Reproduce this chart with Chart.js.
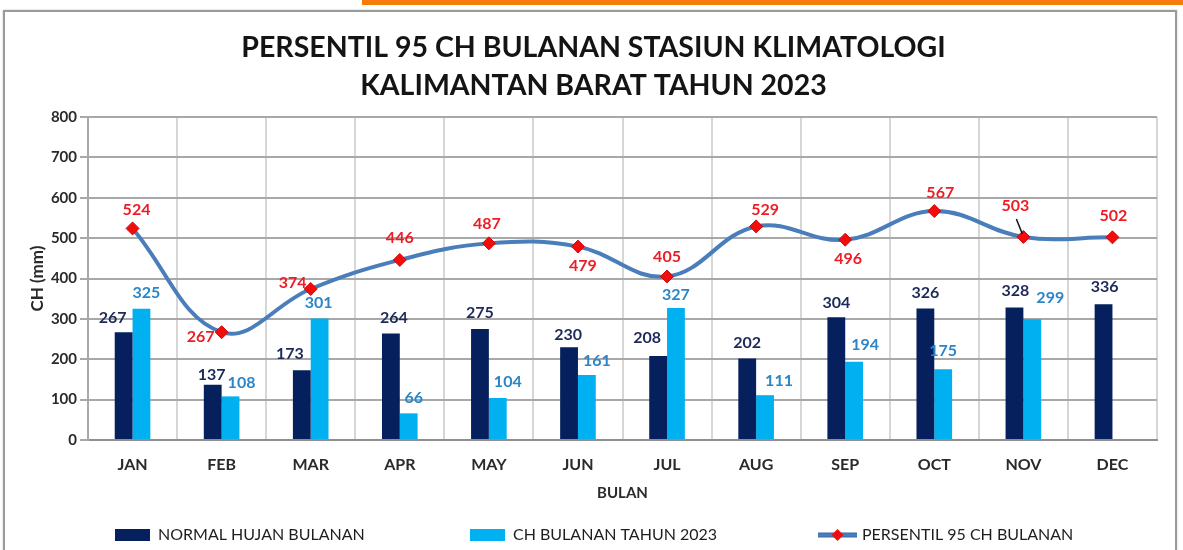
<!DOCTYPE html>
<html>
<head>
<meta charset="utf-8">
<script src="https://cdn.jsdelivr.net/npm/chart.js@4.4.1/dist/chart.umd.min.js"></script>
<style>
  html, body { margin: 0; padding: 0; background: #ffffff; }
  body { width: 1183px; height: 550px; position: relative; overflow: hidden; }
  #orange { position: absolute; left: 362px; top: 0; width: 821px; height: 5px; background: #f47b0c; }
  #frame { position: absolute; left: 3px; top: 10px; width: 1170px; height: 560px; border: 2px solid #9a9a9a; box-shadow: 0 0 2px #c8c8c8; }
  #wrap { position: absolute; left: 0; top: 0; width: 1183px; height: 550px; }
</style>
</head>
<body>
<div id="orange"></div>
<div id="frame"></div>
<div id="wrap"><canvas id="c" width="1183" height="550"></canvas></div>
<script>
// ---- data ----
const categories = ['JAN','FEB','MAR','APR','MAY','JUN','JUL','AUG','SEP','OCT','NOV','DEC'];
const normalValues = [267,137,173,264,275,230,208,202,304,326,328,336];
const ch2023Values = [325,108,301,66,104,161,327,111,194,175,299,null];
const p95Values = [524,267,374,446,487,479,405,529,496,567,503,502];
const seriesNames = ['NORMAL HUJAN BULANAN','CH BULANAN TAHUN 2023','PERSENTIL 95 CH BULANAN'];
const titleLines = ['PERSENTIL 95 CH BULANAN STASIUN KLIMATOLOGI','KALIMANTAN BARAT TAHUN 2023'];
const yMin = 0, yMax = 800, yStep = 100;

// ---- label placement (offsets from mark, px) ----
const normalLabelOffsets = [[-11,-14],[-1,-10],[-12,-16],[3,-16],[0,-16],[-1,-12],[-11,-18],[0,-16],[0,-14],[0,-16],[1,-17],[1,-17]];
const ch2023LabelOffsets = [[5,-16],[11,-14],[-1,-16],[5,-16],[10,-16],[10,-14],[0,-13],[14,-14],[11,-17],[0,-19],[18,-21],[0,0]];
const p95LabelOffsets = [[4,-19],[-21,5],[-18,-6],[0,-22],[-2,-20],[5,19],[0,-20],[9,-17],[3,19],[6,-18],[-8,-31],[1,-21]];
// legend item left edges (px)
const legendItemX = [115, 470, 818];

const COL_DARK = '#06205e';
const COL_LIGHT = '#00b0f0';
const COL_LINE = '#4a7ebb';
const COL_MARK = '#f20d0d';
const labelColors = ['#1c2a5a', '#2a86c8', '#ee1c25'];
const labelOffsets = [normalLabelOffsets, ch2023LabelOffsets, p95LabelOffsets];

const valueLabelPlugin = {
  id: 'valueLabels',
  afterDatasetsDraw(chart) {
    const ctx = chart.ctx;
    ctx.save();
    ctx.font = 'bold 16px Lato';
    ctx.textAlign = 'center';
    ctx.textBaseline = 'middle';
    chart.data.datasets.forEach((ds, i) => {
      const meta = chart.getDatasetMeta(i);
      meta.data.forEach((el, j) => {
        const v = ds.data[j];
        if (v === null || v === undefined) return;
        const off = labelOffsets[i][j];
        const lx = el.x + off[0], ly = el.y + off[1];
        if (i === 2 && j === 10) {
          ctx.strokeStyle = '#111';
          ctx.lineWidth = 1.5;
          ctx.beginPath(); ctx.moveTo(el.x - 7, el.y - 18); ctx.lineTo(el.x - 1, el.y - 3); ctx.stroke();
        }
        ctx.fillStyle = labelColors[i];
        ctx.fillText(String(v), lx, ly);
      });
    });
    ctx.restore();
  }
};

const legendPlugin = {
  id: 'customLegend',
  afterDraw(chart) {
    const ctx = chart.ctx;
    const cy = 535;
    ctx.save();
    ctx.font = '16px Lato';
    ctx.textBaseline = 'middle';
    ctx.textAlign = 'left';
    chart.data.datasets.forEach((ds, i) => {
      const x = legendItemX[i];
      let tx;
      if (ds.type === 'line') {
        ctx.strokeStyle = '#3a6aa8';
        ctx.lineWidth = 5;
        ctx.beginPath(); ctx.moveTo(x, cy); ctx.lineTo(x + 39, cy); ctx.stroke();
        ctx.strokeStyle = ds.borderColor;
        ctx.lineWidth = 3;
        ctx.beginPath(); ctx.moveTo(x, cy); ctx.lineTo(x + 39, cy); ctx.stroke();
        const mx = x + 19.5, r = 6;
        ctx.fillStyle = ds.pointBackgroundColor;
        ctx.beginPath(); ctx.moveTo(mx, cy - r); ctx.lineTo(mx + r, cy); ctx.lineTo(mx, cy + r); ctx.lineTo(mx - r, cy); ctx.closePath();
        ctx.fill();
        tx = x + 44;
      } else {
        ctx.fillStyle = ds.backgroundColor;
        ctx.fillRect(x, cy - 6, 35, 12);
        tx = x + 43;
      }
      ctx.fillStyle = '#1e1e1e';
      ctx.fillText(ds.label, tx, cy);
    });
    ctx.restore();
  }
};

function draw() {
  new Chart(document.getElementById('c'), {
    type: 'bar',
    data: {
      labels: categories,
      datasets: [
        { label: seriesNames[0], data: normalValues, backgroundColor: COL_DARK, order: 1,
          categoryPercentage: 0.4, barPercentage: 1.0 },
        { label: seriesNames[1], data: ch2023Values, backgroundColor: COL_LIGHT, order: 2,
          categoryPercentage: 0.4, barPercentage: 1.0 },
        { type: 'line', label: seriesNames[2], data: p95Values, order: 0,
          borderColor: COL_LINE, borderWidth: 4, tension: 0.4, fill: false,
          pointStyle: 'rectRot', pointRadius: 6.5, pointBackgroundColor: COL_MARK,
          pointBorderColor: '#d00a0a', pointBorderWidth: 1 }
      ]
    },
    options: {
      responsive: false,
      animation: false,
      devicePixelRatio: 1,
      layout: { padding: { left: 30, right: 26, top: 0, bottom: 30 } },
      plugins: {
        tooltip: { enabled: false },
        legend: { display: false },
        title: {
          display: true,
          text: titleLines,
          color: '#141414',
          font: { family: 'Lato', weight: 'bold', size: 28.5, lineHeight: 38 / 28.5 },
          padding: { top: 29, bottom: 12 }
        }
      },
      scales: {
        x: {
          grid: { color: '#d6d6d6', lineWidth: 2, drawTicks: false, offset: true },
          border: { color: '#8f8f8f', width: 2 },
          ticks: { color: '#2a2a2a', font: { family: 'Lato', weight: 'bold', size: 16 }, padding: 15 },
          title: { display: true, text: 'BULAN', color: '#2a2a2a',
                   font: { family: 'Lato', weight: 'bold', size: 15 }, padding: { top: 0, bottom: 18 } },
          afterFit(scale) { scale.height = 80; }
        },
        y: {
          min: yMin, max: yMax,
          grid: { color: '#a8a8a8', lineWidth: 2, tickLength: 8 },
          border: { color: '#a8a8a8', width: 2 },
          ticks: { stepSize: yStep, color: '#2a2a2a', font: { family: 'Lato', weight: 'bold', size: 15 }, padding: 3 },
          title: { display: true, text: 'CH (mm)', color: '#2a2a2a',
                   font: { family: 'Lato', weight: 'bold', size: 17 }, padding: { top: -3, bottom: 0 } },
          afterFit(scale) { scale.width = 58; }
        }
      }
    },
    plugins: [valueLabelPlugin, legendPlugin]
  });
}

Promise.all([
  document.fonts.load('bold 16px Lato'),
  document.fonts.load('16px Lato')
]).then(draw, draw);
</script>
</body>
</html>
